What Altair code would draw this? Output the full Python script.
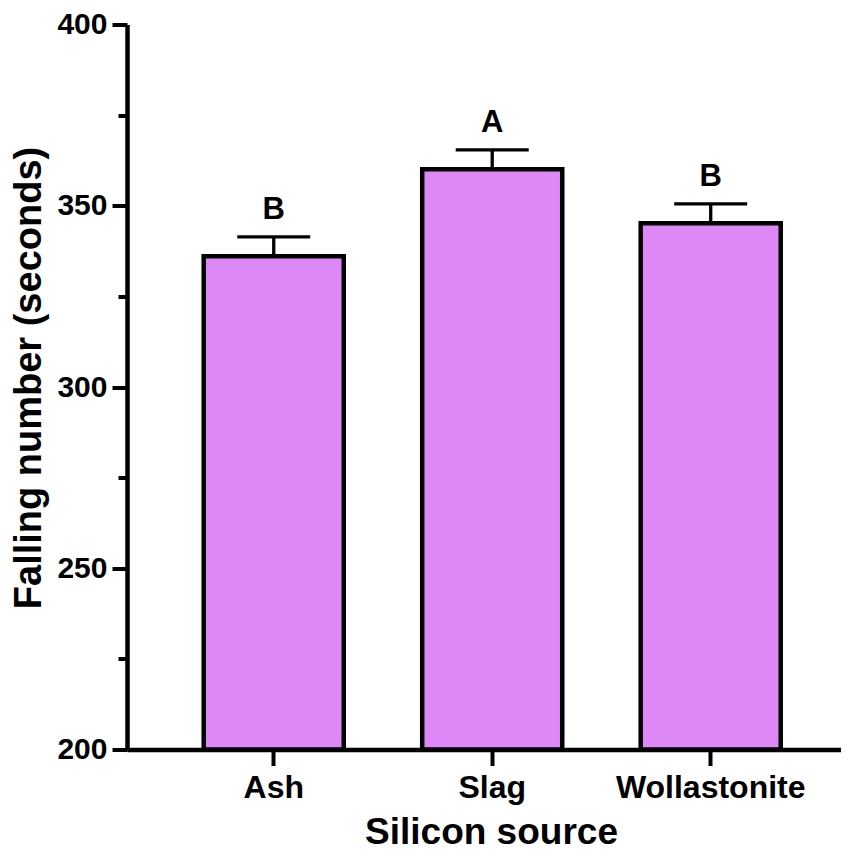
import altair as alt
import pandas as pd

# ---- data ----
sources = ["Ash", "Slag", "Wollastonite"]
means = [336.1, 360.1, 345.2]
uppers = [341.4, 365.4, 350.5]
letters = ["B", "A", "B"]
base = [200, 200, 200]
major_ticks = [200, 250, 300, 350, 400]
minor_ticks = [225, 275, 325, 375]

df = pd.DataFrame({"source": sources, "mean": means, "upper": uppers,
                   "letter": letters, "base": base})

FONT = "Liberation Sans"
FILL = "#DE88F7"
NOVIEW = alt.ViewBackground(strokeOpacity=0, strokeWidth=0)

xscale = alt.Scale(domain=sources, paddingInner=0.359, paddingOuter=0.3135, align=0.56)
yscale = alt.Scale(domain=[200, 400], zero=False, nice=False)

x_axis = alt.Axis(title="Silicon source", labelAngle=0, tickSize=16, labelPadding=7,
                  labelFontSize=32, titleFontSize=37, titleX=364, titleY=94,
                  titleAlign="center", titleBaseline="alphabetic",
                  labelLimit=0, domainWidth=4.5, tickWidth=4, domainColor="black", tickColor="black",
                  labelColor="black", titleColor="black", labelFont=FONT, titleFont=FONT,
                  labelFontWeight="bold", titleFontWeight="bold", grid=False)

x_enc = alt.X("source:N", scale=xscale, axis=x_axis, sort=sources)

y_major = alt.Axis(title="Falling number (seconds)", values=major_ticks, tickSize=15,
                   labelPadding=5, labelFontSize=30, titleFontSize=38, orient="left",
                   titleAngle=-90, titleX=-87, titleY=353, titleAlign="center",
                   titleBaseline="alphabetic", domainWidth=4.5, tickWidth=4,
                   domainColor="black", tickColor="black", labelColor="black",
                   titleColor="black", labelFont=FONT, titleFont=FONT,
                   labelFontWeight="bold", titleFontWeight="bold", grid=False)

y_minor = alt.Axis(title=None, values=minor_ticks, tickSize=9, labels=False, domain=False,
                   orient="left", tickWidth=4, tickColor="black", grid=False)

bars = alt.Chart(df).mark_bar(fill=FILL, stroke="black", strokeWidth=4.5).encode(
    x=x_enc,
    y=alt.Y("mean:Q", scale=yscale, axis=y_major),
    y2="base:Q",
).properties(view=NOVIEW)

err_line = alt.Chart(df).mark_rule(color="black", strokeWidth=3.3).encode(
    x=x_enc,
    y=alt.Y("mean:Q", scale=yscale, axis=y_minor),
    y2="upper:Q",
).properties(view=NOVIEW)

err_cap = alt.Chart(df).mark_tick(color="black", size=73, thickness=3.3, opacity=1).encode(
    x=x_enc,
    y=alt.Y("upper:Q", scale=yscale, axis=None),
).properties(view=NOVIEW)

labels = alt.Chart(df).mark_text(font=FONT, fontWeight="bold", fontSize=31, dy=-18,
                                 baseline="alphabetic", color="black").encode(
    x=x_enc,
    y=alt.Y("upper:Q", scale=yscale, axis=None),
    text="letter:N",
).properties(view=NOVIEW)

chart = alt.layer(bars, err_line, err_cap, labels).resolve_axis(y="independent").properties(
    width=714, height=725,
    autosize="none",
    padding={"left": 119, "top": 16.5, "right": 0, "bottom": 101},
    view=NOVIEW,
).configure_view(strokeOpacity=0, strokeWidth=0).configure_axis(
    grid=False, gridOpacity=0
).configure(background="white")

chart.save("out.html", embed_options={"renderer": "svg", "actions": False})
